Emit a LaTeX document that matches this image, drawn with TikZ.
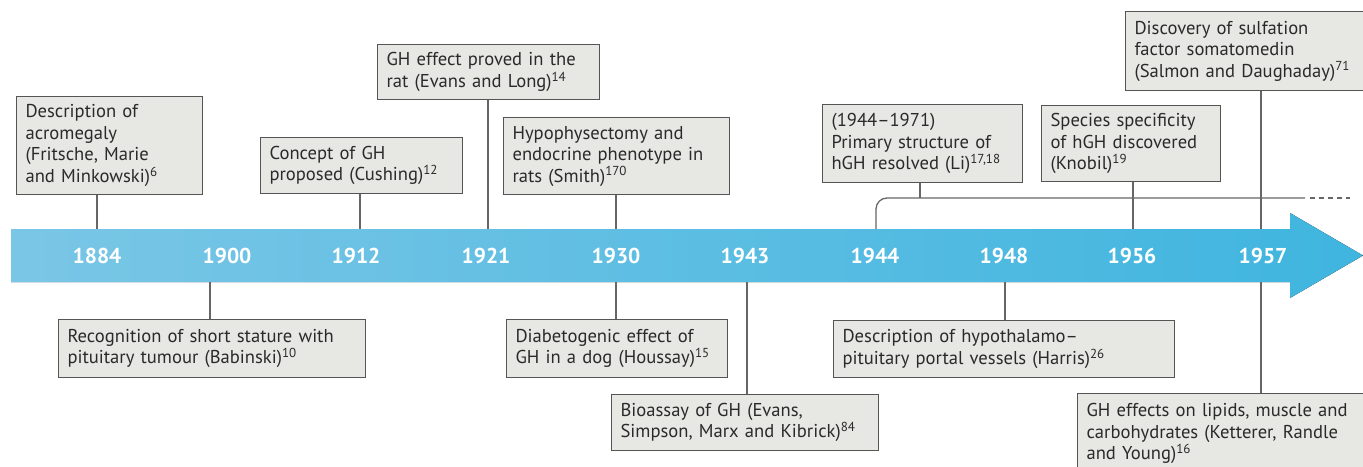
\documentclass[tikz,border=0pt]{standalone}
\usepackage{fontspec}
\setmainfont{PT Sans}
\definecolor{boxfill}{HTML}{E7E7E3}
\definecolor{boxline}{HTML}{555555}
\definecolor{txt}{HTML}{2A2A2A}
\definecolor{connc}{HTML}{666666}
\definecolor{bandL}{HTML}{7AC6E6}
\definecolor{bandR}{HTML}{3FB5DF}
\newcommand{\refsup}[1]{\textsuperscript{#1}}
\begin{document}
\begin{tikzpicture}[x=1pt,y=-1pt,
  evbox/.style={draw=boxline, fill=boxfill, line width=1.1pt, inner xsep=9pt, inner ysep=0pt,
    align=left, anchor=north west, text=txt, font=\fontsize{18.6}{21.5}\selectfont},
  conn/.style={draw=connc, line width=1.3pt},
  yearlbl/.style={text=white, font=\fontsize{21.5}{22}\selectfont\bfseries, inner sep=0pt}]
\useasboundingbox (0,0) rectangle (1363,466);
\clip (0,0) rectangle (1363,466);
% band arrow
\fill[left color=bandL, right color=bandR] (11,229) -- (1290,229) -- (1290,213) -- (1363,255.5)
  -- (1290,298) -- (1290,282) -- (11,282) -- cycle;
% years
\foreach \yr/\xx in {1884/97,1900/227,1912/356,1921/486,1930/616,1943/745,1944/875,1948/1004,1956/1132,1957/1263}
  \node[yearlbl] (y\yr) at (\xx,256) {\yr};
% boxes
\node[evbox, text width=168pt, minimum height=98pt] (b1) at (16,96)
  {Description of\\acromegaly\\(Fritsche, Marie\\and Minkowski)\refsup{6}};
\node[evbox, text width=289pt, minimum height=58pt] (b2) at (58,319)
  {Recognition of short stature with\\pituitary tumour (Babinski)\refsup{10}};
\node[evbox, text width=184pt, minimum height=56pt] (b3) at (260,137)
  {Concept of GH\\proposed (Cushing)\refsup{12}};
\node[evbox, text width=204pt, minimum height=55pt] (b4) at (377,44)
  {GH effect proved in the\\rat (Evans and Long)\refsup{14}};
\node[evbox, text width=208pt, minimum height=77pt] (b5) at (503,117)
  {Hypophysectomy and\\endocrine phenotype in\\rats (Smith)\refsup{170}};
\node[evbox, text width=203pt, minimum height=58pt] (b6) at (506,319)
  {Diabetogenic effect of\\GH in a dog (Houssay)\refsup{15}};
\node[evbox, text width=249pt, minimum height=56pt] (b7) at (611,394)
  {Bioassay of GH (Evans,\\Simpson, Marx and Kibrick)\refsup{84}};
\node[evbox, text width=182pt, minimum height=78pt] (b8) at (822,104)
  {(1944--1971)\\Primary structure of\\hGH resolved (Li)\refsup{17,18}};
\node[evbox, text width=323pt, minimum height=57pt] (b9) at (833,320)
  {Description of hypothalamo--\\pituitary portal vessels (Harris)\refsup{26}};
\node[evbox, text width=161pt, minimum height=76pt] (b10) at (1041,105)
  {Species specificity\\of hGH discovered\\(Knobil)\refsup{19}};
\node[evbox, text width=250pt, minimum height=79pt] (b11) at (1125,11)
  {Discovery of sulfation\\factor somatomedin\\(Salmon and Daughaday)\refsup{71}};
\node[evbox, text width=290pt, minimum height=80pt] (b12) at (1077,393)
  {GH effects on lipids, muscle and\\carbohydrates (Ketterer, Randle\\and Young)\refsup{16}};
% anchor points on the band
\coordinate (t1) at (97,229);
\coordinate (t2) at (210,282);
\coordinate (t3) at (360,229);
\coordinate (t4) at (488,229);
\coordinate (t5) at (616,229);
\coordinate (t6) at (616,282);
\coordinate (t7) at (747,282);
\coordinate (t8) at (920,198);
\coordinate (t9) at (1005,282);
\coordinate (t10) at (1133,229);
\coordinate (t11) at (1261,229);
\coordinate (t12) at (1261,282);
\coordinate (br0) at (876,229);
\coordinate (brE) at (1305,198);
\coordinate (brD) at (1350,198);
% bracket 1944-1971
\draw[conn, rounded corners=11pt] (br0) |- (brE);
\draw[conn, dash pattern=on 5pt off 4pt] (brE) ++(5,0) -- (brD);
% connectors
\draw[conn] (b1.south -| t1) -- (t1);
\draw[conn] (t2) -- (b2.north -| t2);
\draw[conn] (b3.south -| t3) -- (t3);
\draw[conn] (b4.south -| t4) -- (t4);
\draw[conn] (b5.south -| t5) -- (t5);
\draw[conn] (t6) -- (b6.north -| t6);
\draw[conn] (t7) -- (b7.north -| t7);
\draw[conn] (b8.south -| t8) -- (t8);
\draw[conn] (t9) -- (b9.north -| t9);
\draw[conn] (b10.south -| t10) -- (t10);
\draw[conn] (b11.south -| t11) -- (t11);
\draw[conn] (t12) -- (b12.north -| t12);
\end{tikzpicture}
\end{document}
